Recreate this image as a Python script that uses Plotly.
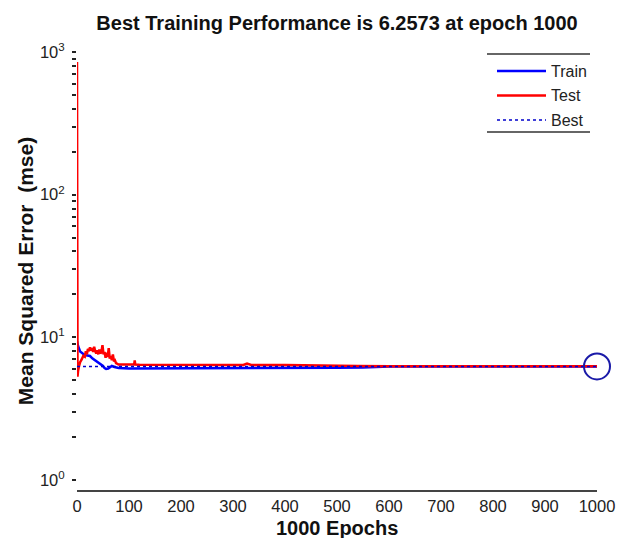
import plotly.graph_objects as go

# ---- data ----
train_epochs = [0, 2, 6, 10, 15, 20, 25, 30, 38, 44, 50, 53, 56, 60, 63, 67, 72, 80, 100, 150,
                200, 275, 300, 400, 500, 550, 600, 700, 800, 900, 1000]
train_mse = [9.4, 8.7, 7.95, 7.7, 7.5, 7.45, 7.4, 7.1, 6.8, 6.6, 6.3, 6.1, 6.0, 6.05, 6.2, 6.3, 6.2, 6.1, 6.05, 6.05,
             6.05, 6.05, 6.1, 6.1, 6.12, 6.15, 6.2573, 6.2573, 6.2573, 6.2573, 6.2573]

test_epochs = [0, 1, 2, 4, 6, 9, 12, 15, 17, 19, 21, 23, 25, 27, 29, 31, 33, 35, 37, 39,
               41, 43, 45, 47, 49, 51, 53, 55, 57, 59, 61, 63, 65, 67, 69, 71, 73, 75, 77, 80,
               90, 100, 110, 111, 112, 120, 150, 200, 250, 300, 320, 327, 335, 400, 450, 500, 525,
               540, 600, 700, 800, 900, 1000]
test_mse = [850, 5.3, 5.8, 6.3, 6.7, 7.0, 7.4, 7.3, 8.0, 7.6, 8.3, 8.0, 8.5, 8.1, 8.4, 7.9, 8.6, 8.0, 7.7, 8.1,
            7.6, 8.2, 7.7, 7.9, 8.8, 7.6, 7.9, 7.2, 7.8, 7.3, 8.4, 7.1, 7.4, 6.9, 7.6, 6.8, 6.9, 6.6, 6.5, 6.45,
            6.45, 6.45, 6.45, 6.9, 6.45, 6.42, 6.42, 6.4, 6.4, 6.4, 6.4, 6.55, 6.4, 6.4, 6.38, 6.38, 6.38,
            6.3, 6.27, 6.26, 6.26, 6.26, 6.26]

best_epoch = 1000
best_mse = 6.2573
epoch_range = [0, 1000]

x_ticks = [0, 100, 200, 300, 400, 500, 600, 700, 800, 900, 1000]
y_major = [1, 10, 100, 1000]
y_major_text = ["10<sup>0</sup>", "10<sup>1</sup>", "10<sup>2</sup>", "10<sup>3</sup>"]
y_minor = [m * d for d in (1, 10, 100) for m in range(2, 10)]

legend_names = ["Train", "Test", "Best"]
legend_colors = ["#0000ff", "#ff0000", "#0000cc"]
legend_dash = ["solid", "solid", "dot"]
legend_width = [2.5, 2.5, 1.5]

FONT = "Liberation Sans, Arial, sans-serif"

fig = go.Figure()
fig.add_trace(go.Scatter(x=train_epochs, y=train_mse, mode="lines", name="Train",
                         line=dict(color=legend_colors[0], width=2.5), cliponaxis=False))
fig.add_trace(go.Scatter(x=test_epochs, y=test_mse, mode="lines", name="Test",
                         line=dict(color=legend_colors[1], width=2.5), cliponaxis=False))
fig.add_trace(go.Scatter(x=epoch_range, y=[best_mse, best_mse], mode="lines", name="Best",
                         line=dict(color=legend_colors[2], width=1.5, dash="dot"), cliponaxis=False))
fig.add_trace(go.Scatter(x=[best_epoch], y=[best_mse], mode="markers",
                         marker=dict(symbol="circle-open", size=26, color="#1a1aa8",
                                     line=dict(width=2, color="#1a1aa8")), cliponaxis=False))

L, T, W, H = 77, 52, 520, 438
W_PX, H_PX = 629, 538


def px(xp):
    return (xp - L) / W


def py(yp):
    return (T + H - yp) / H


shapes = [
    dict(type="line", xref="paper", yref="paper", x0=px(487), x1=px(590), y0=py(54), y1=py(54),
         line=dict(color="#333333", width=1.5)),
    dict(type="line", xref="paper", yref="paper", x0=px(487), x1=px(590), y0=py(132), y1=py(132),
         line=dict(color="#333333", width=1.5)),
]
annotations = []
for i, name in enumerate(legend_names):
    yy = 71 + i * 24.5
    shapes.append(dict(type="line", xref="paper", yref="paper", x0=px(497), x1=px(546),
                       y0=py(yy), y1=py(yy),
                       line=dict(color=legend_colors[i], width=legend_width[i], dash=legend_dash[i])))
    annotations.append(dict(text=name, xref="paper", yref="paper", x=px(549), y=py(yy),
                            xanchor="left", yanchor="middle", showarrow=False,
                            font=dict(size=16, color="#222222", family=FONT)))

# x-axis title placed just under the tick labels
annotations.append(dict(text="<b>1000 Epochs</b>", xref="paper", yref="paper", x=0.5, y=py(528),
                        xanchor="center", yanchor="middle", showarrow=False,
                        font=dict(size=20, color="#111111", family=FONT)))

fig.update_layout(
    width=W_PX, height=H_PX, showlegend=False,
    margin=dict(l=L, r=W_PX - L - W, t=T, b=H_PX - T - H),
    paper_bgcolor="white", plot_bgcolor="white",
    font=dict(family=FONT, size=16, color="#222222"),
    title=dict(text="<b>Best Training Performance is 6.2573 at epoch 1000</b>",
               x=(L + W / 2) / W_PX, xanchor="center", y=1 - 23 / H_PX, yanchor="middle",
               font=dict(size=20, color="#111111")),
    xaxis=dict(range=epoch_range, tickvals=x_ticks, showgrid=False, zeroline=False,
               showline=True, linecolor="#444444", linewidth=1.5, ticks="",
               tickfont=dict(size=16.5), ticklabelstandoff=0, automargin=False),
    yaxis=dict(type="log", range=[-0.07, 3.0], tickvals=y_major, ticktext=y_major_text,
               showgrid=False, zeroline=False, showline=False, automargin=False,
               ticks="outside", ticklen=4, tickwidth=1.5, tickcolor="#222222",
               tickfont=dict(size=16.5), ticklabelstandoff=4,
               minor=dict(tickvals=y_minor, ticks="outside", ticklen=4, tickwidth=1.5,
                          tickcolor="#222222", showgrid=False),
               title=dict(text="<b>Mean Squared Error  (mse)</b>", font=dict(size=21, color="#111111"),
                          standoff=0)),
    shapes=shapes,
    annotations=annotations,
)

fig.write_html("out.html")
